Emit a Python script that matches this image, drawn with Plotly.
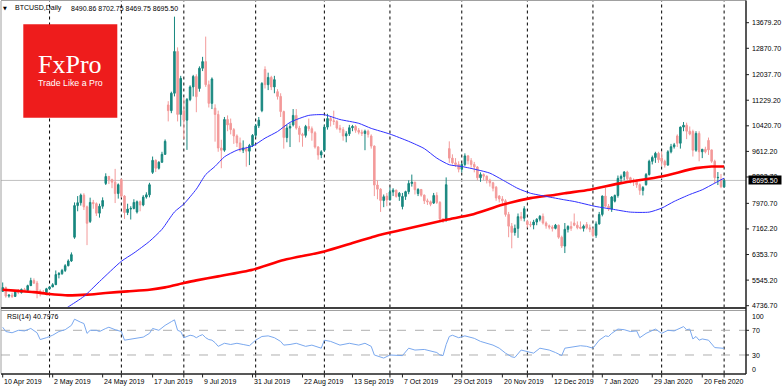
import plotly.graph_objects as go

W, H = 782, 391

# ---------------- data (daily bars, weekdays; index 0 = 10 Apr 2019) ----------------
bar_open = [5190,5310,5040,5070,5030,5200,5150,5250,5220,5370,5530,5450,5200,5160,5150,5270,5330,5400,5720,5750,
            5850,6000,6150,6900,7900,7990,8230,7860,7400,8000,7960,7660,7880,8600,8820,8720,8640,8280,8720,8200,
            7680,7790,7810,7700,8020,7920,8170,8240,8950,9330,9080,9270,9520,11080,10900,11450,12770,10780,10900,10600,
            11250,11650,11980,11600,12240,12450,11720,11130,10980,10780,9720,9650,10620,10500,10300,10100,9880,9650,9700,9620,
            9800,10120,10420,10900,12200,11720,11950,11650,11500,11350,10870,10050,10350,10450,10750,10350,10150,10120,10400,10330,
            10200,9750,9500,9650,10380,10650,10580,10560,10350,10300,10100,10170,10360,10400,10280,10220,10180,10250,10100,9780,
            8550,8420,8060,8200,8080,8330,8390,8190,7870,8190,8340,8600,8640,8280,8410,8230,8050,8020,7980,8220,
            8000,7480,7420,9700,9400,9250,9200,9050,9200,9470,9320,9200,9120,8780,8880,8830,8700,8620,8480,8200,
            8110,8050,7620,7250,7050,7180,7550,7500,7400,7300,7290,7380,7470,7560,7350,7260,7220,7180,7280,6900,
            6620,7150,7240,7350,7280,7220,7180,7300,7200,7150,6960,7320,7620,8200,7880,7790,8040,8220,8760,8820,
            8960,8780,8700,8650,8560,8380,8560,8880,9300,9420,9550,9400,9300,9180,9600,9760,10100,9870,10380,10440,
            10250,10240,9650,10180,9600,9680,9960,9660,9300,8780,8720,8490.86]
bar_high = [5470,5340,5100,5150,5230,5260,5280,5300,5400,5620,5600,5520,5250,5230,5300,5350,5450,5850,5800,5900,
            6050,6200,6420,8000,8200,8280,8290,7900,8150,8080,8000,7960,8160,8920,8840,8750,9060,8600,8760,8230,
            7960,7880,8100,8060,8060,8230,8320,8620,9450,9360,9300,9600,9990,11200,11500,13870,12900,12000,11300,11300,
            11700,12030,12050,12300,12600,13240,11850,11950,11100,10900,9980,10700,10750,10650,10350,10150,10050,9960,9760,9850,
            10160,10480,10700,11800,12300,12100,12000,12000,11580,11450,10900,10450,10500,10950,10950,10420,10200,10450,10650,10400,
            10250,9780,9650,10450,10800,10700,10900,10600,10450,10380,10250,10450,10450,10450,10350,10300,10300,10300,10150,9800,
            8700,8450,8250,8300,8480,8450,8400,8330,8300,8370,8700,8880,8650,8450,8420,8250,8120,8060,8300,8320,
            8040,7500,8790,9930,9520,9400,9300,9250,9550,9500,9400,9280,9150,8950,8920,8850,8750,8650,8520,8230,
            8200,8100,7700,7350,7300,7650,7700,7880,7450,7400,7450,7500,7600,7650,7400,7300,7280,7320,7300,6950,
            7350,7280,7400,7650,7400,7400,7300,7380,7300,7200,7400,7700,8220,8460,7950,8200,8250,8850,8880,8990,
            9000,8810,8760,8720,8600,8520,8930,9350,9480,9600,9600,9600,9350,9650,9850,9880,10150,10400,10540,10520,
            10400,10300,10250,10250,9680,9760,10050,9670,9350,8960,8900,8702.75]
bar_low = [5170,4990,4990,4980,5010,5100,5120,5180,5200,5360,5420,4970,5030,5120,5140,5250,5320,5390,5600,5710,
           5800,5980,6120,6850,7720,7900,7760,6650,7350,7800,7570,7520,7800,8550,8580,8450,7980,8120,8150,7480,
           7600,7460,7780,7650,7720,7880,8120,8160,8900,8960,9040,9250,9500,10560,10820,11350,10560,10400,10000,9660,
           11200,11350,10850,11500,12150,11650,11000,10950,9920,9600,9080,9600,10250,10150,9850,9750,9600,9560,9130,9180,
           9750,10050,10350,10850,11600,11550,11550,11450,11250,10700,9700,9900,9750,10400,10300,9900,9760,10050,10250,9950,
           9700,9350,9400,9600,10300,10400,10450,10300,10200,9950,9900,10100,10250,10200,10150,10100,9650,10050,9700,8200,
           8100,7700,7850,7880,8060,8200,8150,8050,7780,8080,8260,8500,8250,8200,8180,7950,7920,7880,7950,7950,
           7380,7350,7400,9250,9200,9120,8950,8950,9150,9200,9100,8950,8700,8650,8700,8600,8500,8350,8050,8000,
           7950,7550,6900,6550,6950,6880,7420,7400,7200,7220,7150,7280,7400,7300,7170,7150,7080,7150,6850,6560,
           6400,7050,7100,7250,7150,7150,7080,7150,7060,6900,6880,7300,7560,7850,7730,7700,8000,8150,8600,8700,
           8700,8600,8520,8460,8240,8220,8530,8850,9200,9250,9250,9150,9100,9160,9550,9700,9750,9700,10250,10000,
           10120,9450,9600,9300,9400,9550,9500,9250,8600,8550,8450,8469.75]
bar_close = [5310,5040,5070,5030,5200,5150,5250,5220,5370,5530,5450,5200,5160,5150,5270,5330,5400,5720,5750,5850,
             6000,6150,6350,7900,7990,8230,7860,7340,8000,7960,7660,7880,8060,8820,8720,8640,8280,8560,8200,7680,
             7790,7810,8000,8020,7920,8170,8240,8560,9330,9080,9270,9520,9930,10900,11450,12770,10780,11920,10600,11250,
             11650,11980,11340,12240,12450,11720,11130,11900,10780,9720,9650,10620,10450,10300,10100,9880,9650,9720,9620,9800,
             10120,10420,10600,11760,11720,11950,11650,11880,11350,10870,10050,10350,10400,10750,10350,10150,10120,10400,10330,10200,
             9750,9500,9600,10380,10650,10580,10560,10350,10300,10100,10170,10360,10400,10280,10220,10180,10250,10150,9780,8550,
             8420,8060,8180,8080,8330,8390,8190,8290,8190,8340,8600,8640,8400,8410,8230,8050,8020,7940,8220,8000,
             7480,7420,8560,9400,9250,9200,9050,9200,9470,9320,9200,9120,8780,8880,8830,8700,8620,8450,8140,8110,
             8050,7620,7250,7050,7180,7550,7500,7800,7300,7290,7380,7470,7560,7350,7260,7220,7180,7280,6900,6620,
             7150,7240,7180,7280,7200,7180,7250,7200,7150,6960,7320,7620,8200,7880,7790,8170,8220,8760,8820,8960,
             8750,8700,8650,8560,8380,8470,8880,9300,9420,9550,9350,9300,9180,9600,9760,9820,9870,10380,10440,10250,
             10160,9650,10180,9600,9680,9600,9660,9300,8780,8790,8500,8695.50]

label_idx = [0, 16, 32, 48, 64, 80, 96, 112, 128, 144, 160, 176, 192, 208, 224]
label_text = ["10 Apr 2019", "2 May 2019", "24 May 2019", "17 Jun 2019", "9 Jul 2019", "31 Jul 2019",
              "22 Aug 2019", "13 Sep 2019", "7 Oct 2019", "29 Oct 2019", "20 Nov 2019", "12 Dec 2019",
              "7 Jan 2020", "29 Jan 2020", "20 Feb 2020"]
month_idx = [15, 38, 58, 81, 103, 124, 147, 168, 189, 211, 231]

price_ticks = [13679.20, 12870.70, 12037.70, 11229.20, 10420.70, 9612.20, 8803.70,
               7970.70, 7162.20, 6353.70, 5545.20, 4736.70]
last_price = 8695.50

ma_blue_idx = [19, 21, 26, 31, 38, 42, 47, 51, 55, 58, 62, 65, 68, 71, 75, 80, 84, 88, 92, 98, 103, 108, 114,
               118, 124, 130, 135, 139, 143, 147, 152, 156, 160, 165, 169, 174, 180, 183, 190, 195, 201, 207,
               211, 215, 220, 224, 228, 231]
ma_blue_val = [4560, 4700, 5030, 5500, 6140, 6400, 6770, 7150, 7700, 7950, 8420, 8880, 9140, 9440, 9650, 9780,
               10030, 10240, 10530, 10750, 10770, 10620, 10500, 10340, 10160, 9930, 9700, 9400, 9190, 9135, 9030,
               8925, 8714, 8440, 8290, 8190, 8080, 8030, 7870, 7790, 7694, 7694, 7820, 8031, 8250, 8400, 8609, 8767]

ma_red_idx = [0, 5, 10, 15, 20, 24, 27, 33, 40, 47, 52, 58, 62, 69, 80, 90, 103, 112, 118, 121, 128, 142,
              150, 160, 169, 177, 180, 188, 198, 211, 222, 227, 231]
ma_red_val = [5242, 5205, 5165, 5105, 5065, 5070, 5085, 5137, 5190, 5242, 5316, 5452, 5537, 5663, 5873, 6180,
              6452, 6716, 6894, 6980, 7136, 7452, 7610, 7925, 8136, 8241, 8290, 8400, 8609, 8820, 9083, 9135, 9135]

rsi_idx = [0, 1, 3, 5, 7, 9, 11, 12, 14, 16, 18, 20, 22, 23, 25, 26, 27, 28, 30, 31, 33, 34, 36, 38, 39, 42, 45,
           47, 48, 50, 52, 54, 55, 56, 57, 58, 59, 60, 61, 62, 63, 64, 65, 66, 67, 68, 69, 70, 71, 73, 75, 77, 79,
           81, 83, 85, 87, 89, 90, 92, 94, 97, 99, 102, 103, 105, 108, 111, 114, 116, 118, 119, 121, 122, 124,
           126, 128, 130, 132, 135, 137, 139, 140, 141, 142, 143, 144, 146, 148, 151, 153, 155, 157, 159, 161,
           163, 164, 166, 168, 170, 172, 175, 177, 179, 180, 183, 185, 187, 189, 191, 193, 194, 195, 197, 199,
           201, 203, 204, 206, 209, 211, 213, 215, 218, 219, 220, 221, 222, 223, 224, 226, 228, 230, 231]
rsi_val = [75, 68, 66, 70, 69, 73, 66, 55, 58, 62, 68, 71, 78, 88, 83, 81, 65, 70, 70, 68, 73, 75, 71, 68, 54, 56,
           59, 65, 73, 70, 78, 84, 87, 70, 68, 58, 60, 62, 61, 58, 61, 63, 58, 55, 54, 50, 44, 46, 49, 47, 49, 47,
           45, 54, 60, 61, 58, 52, 46, 47, 49, 44, 46, 41, 54, 52, 46, 49, 46, 49, 44, 30, 27, 25, 30, 29, 29, 41,
           38, 39, 36, 34, 30, 29, 47, 60, 62, 58, 61, 57, 52, 49, 46, 41, 33, 27, 26, 38, 35, 33, 41, 38, 34, 29,
           41, 44, 45, 44, 41, 54, 61, 60, 65, 72, 71, 68, 69, 58, 65, 72, 65, 70, 69, 76, 71, 72, 56, 60, 54, 56,
           54, 42, 41, 40.7976]
rsi_ticks = [100, 70, 30, 0]
rsi_levels = [70, 30]

# ---------------- geometry helpers (pixels -> paper) ----------------
def px(x):
    return x / W

def py(y):
    return 1 - y / H

X_LEFT, X_RIGHT = 1.0, 746.0
BAR0, STEP = 2.7, 3.123
x_range = [(X_LEFT - BAR0) / STEP, (X_RIGHT - BAR0) / STEP]

MAIN_TOP, MAIN_BOT = 1.0, 308.0
P_REF, Y_REF, PPX = 13679.2, 22.7, 31.6
def price_at(y):
    return P_REF - (y - Y_REF) * PPX

RSI_TOP, RSI_BOT = 311.8, 373.5

FONT = "Liberation Sans"
TEAL = "#17877f"
PINK = "#f39a9a"

fig = go.Figure()

fig.add_trace(go.Candlestick(
    x=list(range(len(bar_open))), open=bar_open, high=bar_high, low=bar_low, close=bar_close,
    increasing=dict(line=dict(color=TEAL, width=1), fillcolor=TEAL),
    decreasing=dict(line=dict(color=PINK, width=1), fillcolor=PINK),
    whiskerwidth=0, xaxis="x", yaxis="y", hoverinfo="skip", showlegend=False))

fig.add_trace(go.Scatter(x=ma_red_idx, y=ma_red_val, mode="lines",
                         line=dict(color="#ff0000", width=2.6, shape="spline", smoothing=0.6),
                         xaxis="x", yaxis="y", hoverinfo="skip", showlegend=False))
fig.add_trace(go.Scatter(x=ma_blue_idx, y=ma_blue_val, mode="lines",
                         line=dict(color="#3030ff", width=1, shape="spline", smoothing=0.6),
                         xaxis="x", yaxis="y", hoverinfo="skip", showlegend=False))
fig.add_trace(go.Scatter(x=rsi_idx, y=rsi_val, mode="lines",
                         line=dict(color="#7aa8ee", width=1),
                         xaxis="x2", yaxis="y2", hoverinfo="skip", showlegend=False))

shapes = []
# month separators (dotted, behind)
for m in month_idx:
    shapes.append(dict(type="line", xref="x", yref="paper", x0=m, x1=m,
                       y0=py(RSI_BOT), y1=py(MAIN_TOP), layer="below",
                       line=dict(color="#000000", width=1, dash="dot")))
# last price line
shapes.append(dict(type="line", xref="paper", yref="y", x0=px(X_LEFT), x1=px(X_RIGHT),
                   y0=last_price, y1=last_price, layer="below",
                   line=dict(color="#c0c0c0", width=1)))
# RSI levels
for lv in rsi_levels:
    shapes.append(dict(type="line", xref="paper", yref="y2", x0=px(X_LEFT), x1=px(X_RIGHT),
                       y0=lv, y1=lv, layer="below",
                       line=dict(color="#b0b0b0", width=1, dash="dash")))
# panel frames
shapes.append(dict(type="line", xref="paper", yref="paper", x0=px(1), x1=px(1),
                   y0=py(RSI_BOT), y1=py(MAIN_TOP), line=dict(color="#a0a0a0", width=1)))
shapes.append(dict(type="line", xref="paper", yref="paper", x0=px(1), x1=px(X_RIGHT),
                   y0=py(0.5), y1=py(0.5), line=dict(color="#a0a0a0", width=1)))
shapes.append(dict(type="line", xref="paper", yref="paper", x0=px(1), x1=px(X_RIGHT),
                   y0=py(MAIN_BOT), y1=py(MAIN_BOT), line=dict(color="#404040", width=2)))
shapes.append(dict(type="line", xref="paper", yref="paper", x0=px(1), x1=px(X_RIGHT),
                   y0=py(310.5), y1=py(310.5), line=dict(color="#a0a0a0", width=1)))
shapes.append(dict(type="line", xref="paper", yref="paper", x0=px(1), x1=px(X_RIGHT),
                   y0=py(374), y1=py(374), line=dict(color="#202020", width=1.5)))
shapes.append(dict(type="line", xref="paper", yref="paper", x0=px(X_RIGHT), x1=px(X_RIGHT),
                   y0=py(374), y1=py(0.5), line=dict(color="#202020", width=1.5)))
# bottom axis ticks
for t in sorted(set(label_idx + month_idx)):
    shapes.append(dict(type="line", xref="x", yref="paper", x0=t, x1=t,
                       y0=py(377.5), y1=py(374), line=dict(color="#202020", width=1)))
# price axis ticks
for v in price_ticks:
    shapes.append(dict(type="line", xref="paper", yref="y", x0=px(X_RIGHT), x1=px(X_RIGHT + 3),
                       y0=v, y1=v, line=dict(color="#202020", width=1)))
# RSI axis ticks
for t in rsi_levels:
    shapes.append(dict(type="line", xref="paper", yref="y2", x0=px(X_RIGHT), x1=px(X_RIGHT + 3),
                       y0=t, y1=t, line=dict(color="#202020", width=1)))
# FxPro logo box
shapes.append(dict(type="rect", xref="paper", yref="paper", x0=px(23.3), x1=px(117.3),
                   y0=py(117.7), y1=py(24.3), fillcolor="#ee1c1c", line=dict(width=0), layer="above"))

ann = []
for i, t in zip(label_idx, label_text):
    ann.append(dict(x=i, xref="x", y=py(381.5), yref="paper", text=t, showarrow=False,
                    xanchor="left", yanchor="middle", xshift=-0.5,
                    font=dict(family=FONT, size=7, color="#000000")))
# price scale labels
for v in price_ticks:
    ann.append(dict(x=px(750), xref="paper", y=v, yref="y", text=f"{v:.2f}", showarrow=False,
                    xanchor="left", yanchor="middle",
                    font=dict(family=FONT, size=7, color="#000000")))
rsi_label_y = {100: 316.0, 70: 330.3, 30: 355.0, 0: 369.3}
for v in rsi_ticks:
    ann.append(dict(x=px(750), xref="paper", y=py(rsi_label_y[v]), yref="paper", text=str(v),
                    showarrow=False, xanchor="left", yanchor="middle",
                    font=dict(family=FONT, size=7, color="#000000")))
# last price box
ann.append(dict(x=px(748), xref="paper", y=last_price, yref="y", text=f"{last_price:.2f}",
                showarrow=False, xanchor="left", yanchor="middle", bgcolor="#000000", borderpad=0,
                width=32, height=8, align="center",
                font=dict(family=FONT, size=7, color="#ffffff")))
# header
ann.append(dict(x=px(5), xref="paper", y=py(8), yref="paper", text="▼", showarrow=False,
                xanchor="center", yanchor="middle", font=dict(family="DejaVu Sans", size=5, color="#000000")))
ann.append(dict(x=px(13), xref="paper", y=py(8), yref="paper", text="BTCUSD,Daily", showarrow=False,
                xanchor="left", yanchor="middle", font=dict(family=FONT, size=7, color="#000000")))
ann.append(dict(x=px(69), xref="paper", y=py(8), yref="paper",
                text=f"{bar_open[-1]:.2f} {bar_high[-1]:.2f} {bar_low[-1]:.2f} {bar_close[-1]:.2f}",
                showarrow=False, xanchor="left", yanchor="middle",
                font=dict(family=FONT, size=7, color="#000000")))
ann.append(dict(x=px(5), xref="paper", y=py(317), yref="paper", text=f"RSI(14) {rsi_val[-1]:.4f}",
                showarrow=False, xanchor="left", yanchor="middle",
                font=dict(family=FONT, size=7, color="#000000")))
# logo texts
ann.append(dict(x=px(70.3), xref="paper", y=py(65), yref="paper", text="FxPro", showarrow=False,
                xanchor="center", yanchor="middle",
                font=dict(family="Liberation Serif", size=26, color="#ffffff")))
ann.append(dict(x=px(70.3), xref="paper", y=py(83.5), yref="paper", text="Trade Like a Pro", showarrow=False,
                xanchor="center", yanchor="middle",
                font=dict(family=FONT, size=8.8, color="#ffffff")))

fig.update_layout(
    width=W, height=H, margin=dict(l=0, r=0, t=0, b=0),
    paper_bgcolor="#ffffff", plot_bgcolor="rgba(0,0,0,0)", showlegend=False,
    xaxis=dict(domain=[px(X_LEFT), px(X_RIGHT)], range=x_range, anchor="y", visible=False,
               rangeslider=dict(visible=False), fixedrange=True),
    xaxis2=dict(domain=[px(X_LEFT), px(X_RIGHT)], range=x_range, anchor="y2", visible=False,
                matches="x", fixedrange=True),
    yaxis=dict(domain=[py(MAIN_BOT), py(MAIN_TOP)], range=[price_at(MAIN_BOT), price_at(MAIN_TOP)],
               anchor="x", visible=False, fixedrange=True),
    yaxis2=dict(domain=[py(RSI_BOT), py(RSI_TOP)], range=[0, 100], anchor="x2", visible=False,
                fixedrange=True),
    shapes=shapes, annotations=ann,
)

fig.write_html("out.html", config={"displayModeBar": False},
               post_script="document.body.style.margin='0px';document.body.style.overflow='hidden';")
